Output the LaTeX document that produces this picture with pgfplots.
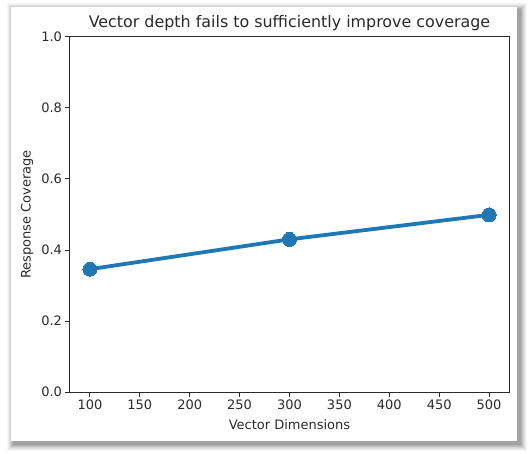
\documentclass[border=0pt]{standalone}
\usepackage{pgfplots}
\pgfplotsset{compat=1.18}
\usepackage{fontspec}
\setmainfont{DejaVu Sans}
\definecolor{cblue}{HTML}{1F77B4}
\definecolor{txt}{HTML}{2A2A2A}
\begin{document}
\begin{tikzpicture}
\fill[white] (0pt,0pt) rectangle (530pt,453pt);
% shadow
\foreach \d/\o in {7/0.03,6/0.04,5/0.05,4/0.06,3/0.07,2/0.08,1/0.09}{
  \fill[black,opacity=\o] ({(14-\d)*1pt},{(9-\d)*1pt}) rectangle ({(520+\d)*1pt},{(443+\d)*1pt});
}
\fill[white] (11pt,12pt) rectangle (517pt,446pt);
\begin{axis}[
  at={(70pt,61pt)}, anchor=south west,
  scale only axis, width=439pt, height=355pt,
  xmin=80, xmax=520, ymin=0, ymax=1,
  xtick={100,150,...,500},
  ytick={0,0.2,0.4,0.6,0.8,1.0},
  yticklabel style={/pgf/number format/.cd,fixed,fixed zerofill,precision=1},
  /pgf/number format/assume math mode=true,
  tick align=outside, tick pos=left,
  major tick length=4.5pt,
  every tick/.style={txt, line width=1pt},
  axis line style={txt, line width=1pt},
  ticklabel style={font=\fontsize{13}{15}\selectfont, text=txt},
  label style={font=\fontsize{13}{15}\selectfont, text=txt},
  title style={font=\fontsize{15.9}{18}\selectfont, text=txt, yshift=-3pt},
  title={Vector depth fails to sufficiently improve coverage},
  xlabel={Vector Dimensions},
  ylabel={Response Coverage},
  xlabel style={yshift=-3pt},
  ylabel style={yshift=1pt},
]
\addplot[cblue, line width=3.8pt, mark=*, mark size=7pt, mark options={fill=cblue, draw=cblue, line width=0pt}]
  coordinates {(100,0.346) (300,0.430) (500,0.499)};
\end{axis}
\end{tikzpicture}
\end{document}
